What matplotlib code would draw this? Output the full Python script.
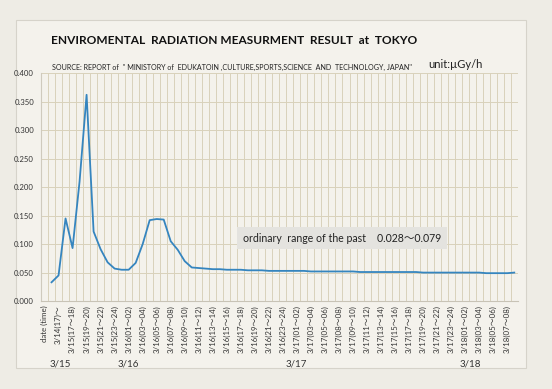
import matplotlib
matplotlib.use('Agg')
import matplotlib.pyplot as plt
import matplotlib.patches as patches
import matplotlib.transforms as mtrans
import numpy as np

plt.rcParams['font.family'] = ['Lato', 'Noto Sans CJK JP', 'DejaVu Sans']

# hourly readings, categories 1..67 (category 0 is the "date (time)" header)
values = [0.033, 0.045, 0.145, 0.093, 0.210, 0.362, 0.122, 0.091, 0.068, 0.057,
          0.055, 0.055, 0.067, 0.100, 0.142, 0.144, 0.143, 0.105, 0.090, 0.070,
          0.059, 0.058, 0.057, 0.056, 0.056, 0.055, 0.055, 0.055, 0.054, 0.054,
          0.054, 0.053, 0.053, 0.053, 0.053, 0.053, 0.053, 0.052, 0.052, 0.052,
          0.052, 0.052, 0.052, 0.052, 0.051, 0.051, 0.051, 0.051, 0.051, 0.051,
          0.051, 0.051, 0.051, 0.050, 0.050, 0.050, 0.050, 0.050, 0.050, 0.050,
          0.050, 0.050, 0.049, 0.049, 0.049, 0.049, 0.050]

# labels shown on every second category
tick_labels = ['date (time)', '3/14(17)～',
               '3/15(17～18)', '3/15(19～20)', '3/15(21～22)', '3/15(23～24)',
               '3/16(01～02)', '3/16(03～04)', '3/16(05～06)', '3/16(07～08)',
               '3/16(09～10)', '3/16(11～12)', '3/16(13～14)', '3/16(15～16)',
               '3/16(17～18)', '3/16(19～20)', '3/16(21～22)', '3/16(23～24)',
               '3/17(01～02)', '3/17(03～04)', '3/17(05～06)', '3/17(08～08)',
               '3/17(09～10)', '3/17(11～12)', '3/17(13～14)', '3/17(15～16)',
               '3/17(17～18)', '3/17(19～20)', '3/17(21～22)', '3/17(23～24)',
               '3/18(01～02)', '3/18(03～04)', '3/18(05～06)', '3/18(07～08)']

day_labels = ['3/15', '3/16', '3/17', '3/18']
day_pos = [2.2, 11.9, 35.9, 60.8]

y_ticks = [0.0, 0.05, 0.1, 0.15, 0.2, 0.25, 0.3, 0.35, 0.4]

bg = '#eeece5'
paper = '#f4f2ec'
grid_c = '#d9d1bb'

fig = plt.figure(figsize=(5.52, 3.89), dpi=100, facecolor=bg)
frame = patches.Rectangle((0.029, 0.054), 0.924, 0.895, transform=fig.transFigure,
                          facecolor=paper, edgecolor='#d6d3ca', linewidth=0.8, zorder=-5)
fig.patches.append(frame)

ax = fig.add_axes([0.0743, 0.226, 0.8637, 0.586])
ax.set_facecolor(paper)

n_cat = len(values) + 1
x = np.arange(1, n_cat)
ax.plot(x, values, color='#3585bf', linewidth=1.3, zorder=3)

ax.set_xlim(-0.5, n_cat - 0.5)
ax.set_ylim(0, 0.4)
ax.set_yticks(y_ticks)
ax.set_yticklabels(['%.3f' % v for v in y_ticks], fontsize=5.6, color='#333333')
ax.set_xticks(np.arange(0, n_cat, 2))
ax.set_xticklabels(tick_labels, rotation=90, fontsize=5.7, color='#333333')
ax.set_xticks(np.arange(-0.5, n_cat, 1), minor=True)
ax.tick_params(axis='both', which='both', length=0)
ax.tick_params(axis='x', pad=3)
ax.tick_params(axis='y', pad=5)

ax.grid(True, which='minor', axis='x', color=grid_c, linewidth=0.7)
ax.grid(True, which='major', axis='y', color=grid_c, linewidth=0.7)
ax.grid(False, which='major', axis='x')
for s in ['top', 'right']:
    ax.spines[s].set_visible(False)
ax.spines['left'].set_color('#cfcabd')
ax.spines['bottom'].set_color('#c8c3b6')

day_tr = mtrans.blended_transform_factory(ax.transData, fig.transFigure)
for lab, pos in zip(day_labels, day_pos):
    ax.text(pos, 0.065, lab, transform=day_tr, fontsize=7, color='#333333',
            ha='center', va='center')

ax.text(0.423, 0.276, 'ordinary  range of the past    0.028～0.079',
        transform=ax.transAxes, fontsize=7.6, color='#222222', va='center',
        bbox=dict(boxstyle='square,pad=0.55', facecolor='#e4e3df', edgecolor='none'))

fig.text(0.092, 0.897, 'ENVIROMENTAL  RADIATION MEASURMENT  RESULT  at  TOKYO',
         fontsize=8.6, fontweight='bold', color='#111111', va='center')
fig.text(0.094, 0.826, 'SOURCE: REPORT of  " MINISTORY of  EDUKATOIN ,CULTURE,SPORTS,SCIENCE  AND  TECHNOLOGY, JAPAN"',
         fontsize=5.1, color='#222222', va='center')
fig.text(0.775, 0.835, 'unit:µGy/h', fontsize=8, color='#222222', va='center')

fig.savefig('out.png', dpi=100, facecolor=bg)
